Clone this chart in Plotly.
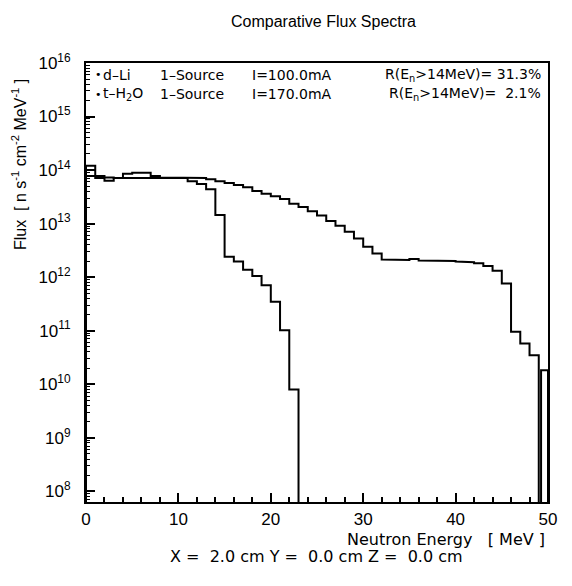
import numpy as np
import plotly.graph_objects as go

# ---- data -----------------------------------------------------------------
# log10 of flux per 1 MeV energy bin, starting at 0 MeV
dli_edges = list(range(0, 50)) + [49.25, 50]
dli_log_flux = [
    14.08, 13.89, 13.86, 13.85, 13.93, 13.95, 13.95, 13.89, 13.86, 13.86,
    13.86, 13.85, 13.85, 13.83, 13.79, 13.76, 13.72, 13.68, 13.61, 13.56,
    13.51, 13.46, 13.37, 13.31, 13.23, 13.15, 13.05, 12.96, 12.85, 12.72,
    12.57, 12.44, 12.33, 12.32, 12.32, 12.34, 12.31, 12.31, 12.30, 12.30,
    12.29, 12.28, 12.26, 12.21, 12.12, 11.88, 10.98, 10.76, 10.54,
    None, 10.26,
]

th2o_edges = list(range(0, 24))
th2o_log_flux = [
    13.89, 13.85, 13.80, 13.85, 13.85, 13.85, 13.85, 13.85, 13.86, 13.86,
    13.85, 13.79, 13.74, 13.64, 13.16, 12.38, 12.29, 12.14, 12.02, 11.85,
    11.54, 11.01, 9.90,
]

x_ticks = [0, 10, 20, 30, 40, 50]
y_decades = list(range(8, 17))

NB = "\u00a0"
sources = ["d\u2013Li", "t\u2013H<sub>2</sub>O"]
currents = ["I=100.0mA", "I=170.0mA"]
ratios = ["R(E<sub>n</sub>>14MeV)=" + NB + "31.3%",
          "R(E<sub>n</sub>>14MeV)=" + NB * 2 + "2.1%"]
x_title = "Neutron Energy" + NB * 3 + "[ MeV ]"
position_text = ("X =" + NB * 2 + "2.0 cm Y =" + NB * 2 + "0.0 cm Z ="
                 + NB * 2 + "0.0 cm")

# ---- geometry -------------------------------------------------------------
W, H = 572, 586
L, R, T, B = 86, 548, 63, 502
Y_MIN, Y_MAX = 7.8, 16.0
FLOOR = 1e5  # below the axis; steps dropping here reach the frame


def px(xp):
    return (xp - L) / (R - L)


def py(yp):
    return (B - yp) / (B - T)


def step_path(edges, logs):
    """Histogram outline: each bin drawn flat, empty bins drop to the floor."""
    xs, ys = [edges[0]], [FLOOR]
    for i, v in enumerate(logs):
        val = FLOOR if v is None else 10 ** v
        xs += [edges[i], edges[i + 1]]
        ys += [val, val]
    xs.append(edges[len(logs)])
    ys.append(FLOOR)
    return xs, ys


FONT = "Liberation Sans, Arial, sans-serif"
WIDE = "DejaVu Sans, sans-serif"

fig = go.Figure()
for edges, logs in [(dli_edges, dli_log_flux), (th2o_edges, th2o_log_flux)]:
    xs, ys = step_path(edges, logs)
    fig.add_trace(go.Scatter(x=xs, y=ys, mode="lines",
                             line=dict(color="black", width=2),
                             showlegend=False, hoverinfo="skip"))

minor_y = [k * 10.0 ** n for n in range(7, 16) for k in range(2, 10)]

fig.update_layout(
    width=W, height=H,
    margin=dict(l=L, r=W - R, t=T, b=H - B),
    paper_bgcolor="white", plot_bgcolor="white",
    font=dict(family=FONT, color="black", size=15),
    xaxis=dict(
        range=[0, 50], tickmode="array", tickvals=x_ticks,
        ticks="inside", ticklen=9, tickwidth=1.5, tickcolor="black",
        minor=dict(dtick=2, tick0=0, ticks="inside", ticklen=5,
                   tickwidth=1.5, tickcolor="black", showgrid=False),
        showline=True, linecolor="black", linewidth=2, mirror=True,
        showgrid=False, zeroline=False,
        tickfont=dict(size=17, family=FONT), ticklabelstandoff=1,
    ),
    yaxis=dict(
        type="log", range=[Y_MIN, Y_MAX], tickmode="array",
        tickvals=[10.0 ** d for d in y_decades],
        ticktext=[f"10<sup>{d}</sup>" for d in y_decades],
        ticks="inside", ticklen=9, tickwidth=1.5, tickcolor="black",
        minor=dict(tickmode="array", tickvals=minor_y, ticks="inside",
                   ticklen=4, tickwidth=1.2, tickcolor="black",
                   showgrid=False),
        showline=True, linecolor="black", linewidth=2, mirror=True,
        showgrid=False, zeroline=False,
        tickfont=dict(size=17, family=FONT), ticklabelstandoff=10,
    ),
)

ann = []
ann.append(dict(text="Comparative Flux Spectra", x=px(323), y=py(21),
                xanchor="center", yanchor="middle",
                font=dict(size=16, family=FONT)))
ann.append(dict(text="Flux  [ n s<sup>-1</sup> cm<sup>-2</sup> MeV<sup>-1</sup> ]",
                x=px(19), y=py(165), textangle=-90,
                xanchor="center", yanchor="middle",
                font=dict(size=16, family=FONT)))
for row, yrow in enumerate([75, 94]):
    ann.append(dict(text="\u2022", x=px(93), y=py(yrow), xanchor="left",
                    yanchor="middle", font=dict(size=11, family=WIDE)))
    ann.append(dict(text=sources[row], x=px(101), y=py(yrow), xanchor="left",
                    yanchor="middle", font=dict(size=14, family=WIDE)))
    ann.append(dict(text="1\u2013Source", x=px(158), y=py(yrow), xanchor="left",
                    yanchor="middle", font=dict(size=14, family=WIDE)))
    ann.append(dict(text=currents[row], x=px(250), y=py(yrow), xanchor="left",
                    yanchor="middle", font=dict(size=14, family=WIDE)))
    ann.append(dict(text=ratios[row], x=px(543), y=py(yrow), xanchor="right",
                    yanchor="middle", font=dict(size=14, family=WIDE)))
ann.append(dict(text=x_title, x=px(547), y=py(539),
                xanchor="right", yanchor="middle",
                font=dict(size=16, family=WIDE)))
ann.append(dict(text=position_text, x=px(316), y=py(556),
                xanchor="center", yanchor="middle",
                font=dict(size=16, family=WIDE)))

for a in ann:
    a.update(xref="paper", yref="paper", showarrow=False)
fig.update_layout(annotations=ann)

fig.write_html("out.html")
